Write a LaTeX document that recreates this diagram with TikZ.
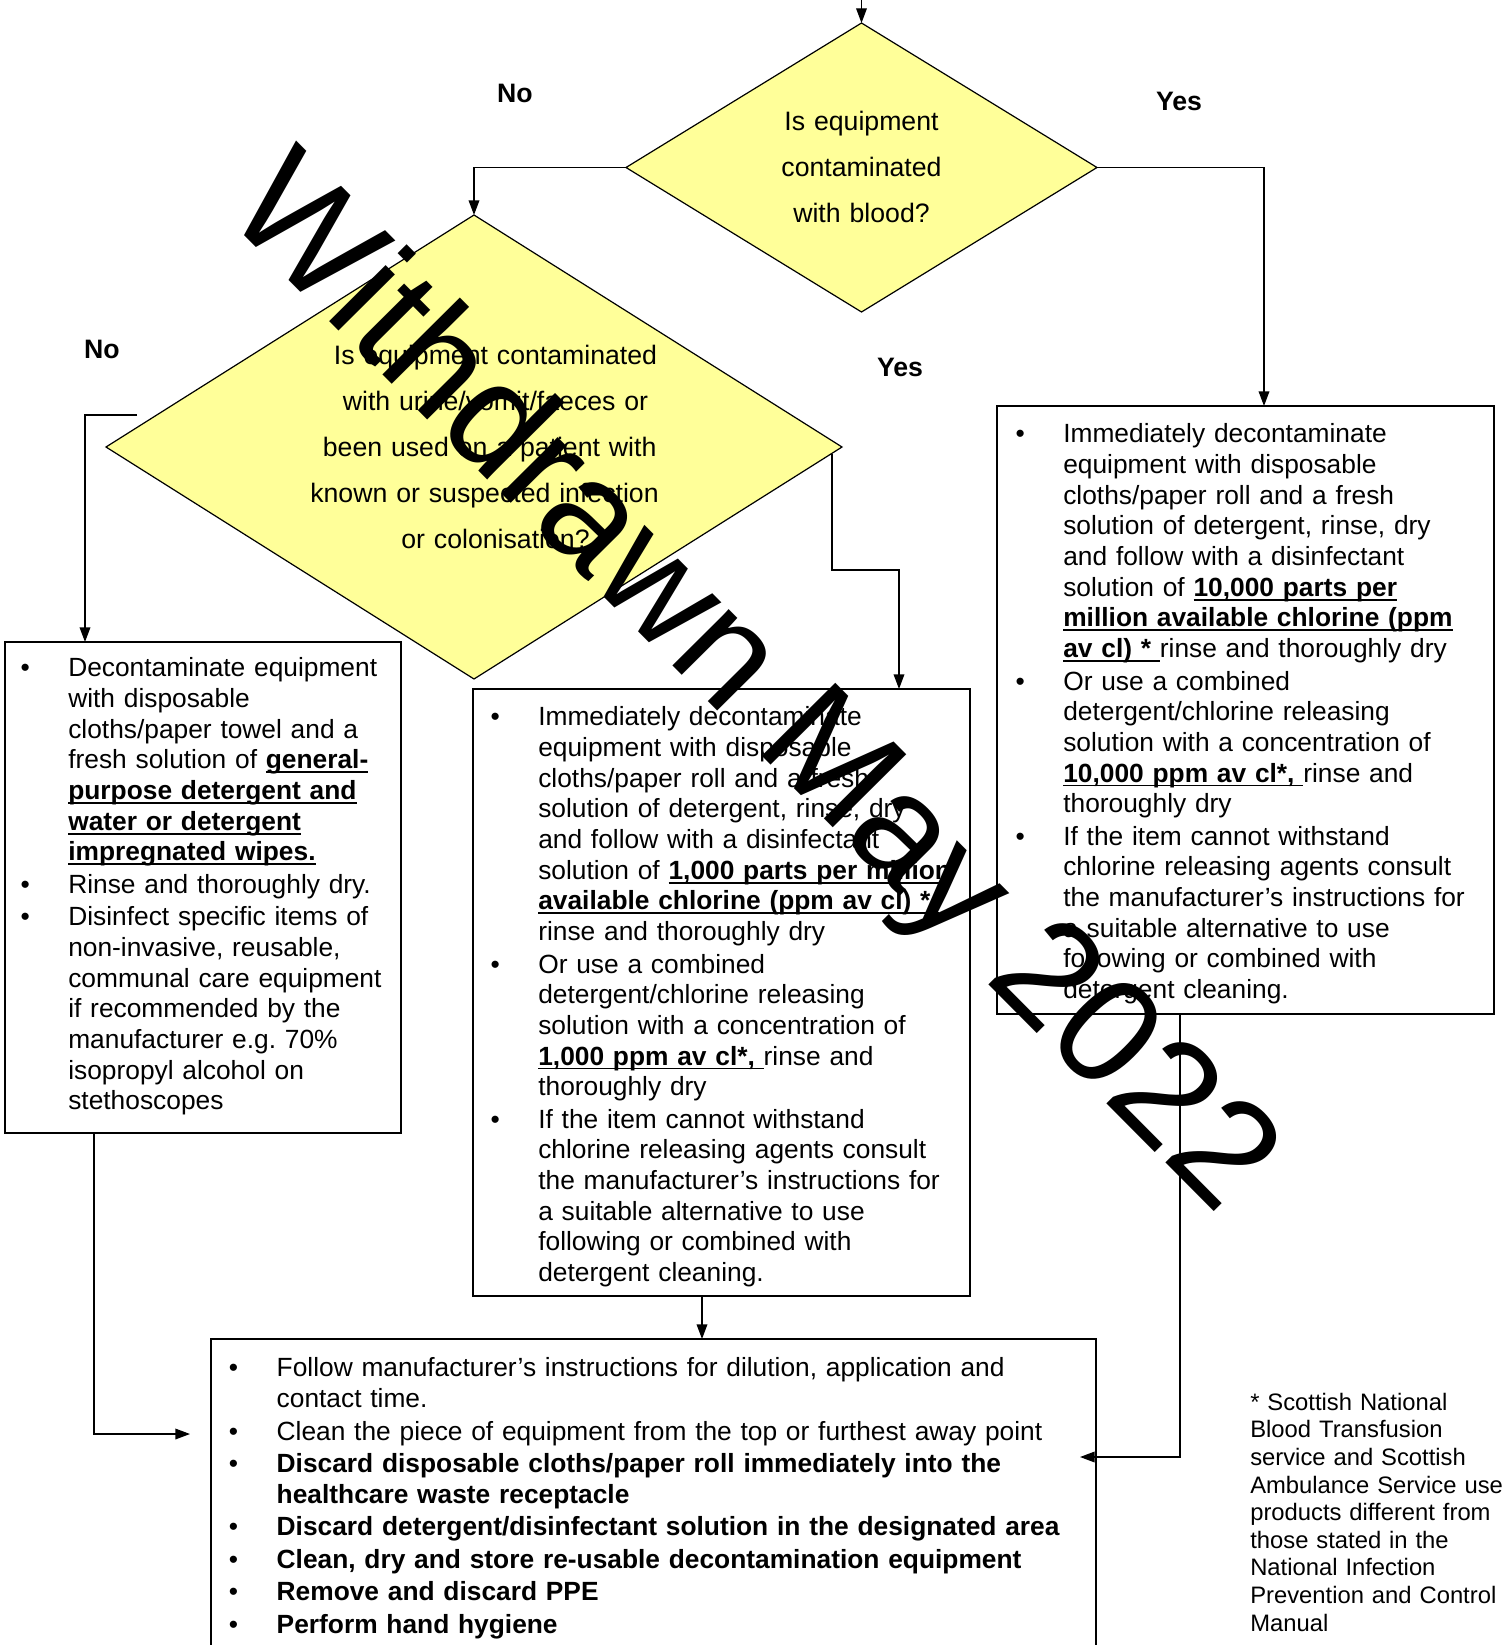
\documentclass[tikz,border=0pt]{standalone}
\usepackage{fontspec}
\setmainfont{Liberation Sans}
\usetikzlibrary{shapes.geometric,arrows.meta}
\definecolor{dyel}{HTML}{FFFF99}
\newsavebox\ulbox
\newcommand\ulb[1]{\leavevmode\sbox\ulbox{\bfseries #1}\rlap{\rule[-3.3pt]{\wd\ulbox}{1.3pt}}\usebox\ulbox}
\newlength\bpind \setlength\bpind{35.8pt}
\newcommand\bp[1]{\par\noindent\hangindent=\bpind\hangafter=1{\let\\\newline\makebox[\bpind][l]{\textbullet}\strut#1}\par}
\newcommand\bxf{\fontsize{19.75}{23}\selectfont}
\tikzset{
 dia/.style={diamond, draw, fill=dyel, line width=0.9pt, inner sep=0pt, outer sep=0pt},
 boxn/.style={draw, line width=1.2pt, anchor=north west, inner sep=0pt, outer sep=0pt},
 btxt/.style={anchor=north west, inner sep=0pt, font=\bxf, text width=#1},
 lbl/.style={font=\fontsize{20}{23}\selectfont\bfseries, inner sep=0pt, text depth=0pt},
 arr/.style={line width=1pt, -{Triangle[length=11pt,width=8pt]}},
 qtxt/.style={anchor=north, inner sep=0pt, align=center, font=\fontsize{20}{34.5}\selectfont},
}
\begin{document}
\begin{tikzpicture}[x=0.75pt,y=-0.75pt]
\useasboundingbox (0,0) rectangle (1506,1645);
\begin{scope}
\clip (0,0) rectangle (1506,1645);
% decisions
\node[dia, minimum width=353.25pt, minimum height=216.75pt] (d1) at (861.5,167.5) {};
\node[dia, minimum width=552pt, minimum height=348pt] (d2) at (474,447) {};
\node[qtxt, text width=225pt] (d1t) at (861.5,97.8) {\strut Is equipment\\ contaminated\\ with blood?};
\begin{scope}
\clip (250,300) rectangle (658,600);
\node[qtxt, text width=400pt] (d2t) at (495.5,331.8) {\strut Is equipment contaminated\\ with urine/vomit/faeces or\\ \mbox{}\hspace{9pt}been used on a patient with a\\ known or suspected infection\hspace{16.5pt}\mbox{}\\ or colonisation?};
\end{scope}
% labels
\node[lbl] (no1) at (515,93) {No};
\node[lbl] (yes1) at (1179,101) {Yes};
\node[lbl] (no2) at (102,349) {No};
\node[lbl] (yes2) at (900,367) {Yes};
% boxes
\node[boxn, minimum width=297pt, minimum height=368.25pt] (lbox) at (5,642) {};
\node[boxn, minimum width=372.75pt, minimum height=455.25pt] (mbox) at (473,689) {};
\node[boxn, minimum width=372.75pt, minimum height=456pt] (rbox) at (997,406) {};
\node[boxn, minimum width=663.75pt, minimum height=240.75pt] (botbox) at (211,1339) {};
% box texts
\node[btxt=283pt] (ltx) at (20.3,644) {\raggedright\setlength{\parskip}{1.4pt}%
\bp{Decontaminate equipment\\ with disposable\\ cloths/paper towel and a\\ fresh solution of \ulb{general-}\\ \ulb{purpose detergent and}\\ \ulb{water or detergent}\\ \ulb{impregnated wipes.}}
\bp{Rinse and thoroughly dry.}
\bp{Disinfect specific items of\\ non-invasive, reusable,\\ communal care equipment\\ if recommended by the\\ manufacturer e.g.\ 70\%\\ isopropyl alcohol on\\ stethoscopes}};
\node[btxt=358pt] (mtx) at (490.3,693) {\raggedright\setlength{\parskip}{1.4pt}%
\bp{Immediately decontaminate\\ equipment with disposable\\ cloths/paper roll and a fresh\\ solution of detergent, rinse, dry\\ and follow with a disinfectant\\ solution of \ulb{1,000 parts per million}\\ \ulb{available chlorine (ppm av cl) *\ }\\ rinse and thoroughly dry}
\bp{Or use a combined\\ detergent/chlorine releasing\\ solution with a concentration of\\ \ulb{1,000 ppm av cl*,\ }rinse and\\ thoroughly dry}
\bp{If the item cannot withstand\\ chlorine releasing agents consult\\ the manufacturer’s instructions for\\ a suitable alternative to use\\ following or combined with\\ detergent cleaning.}};
\node[btxt=358pt] (rtx) at (1015.3,410) {\raggedright\setlength{\parskip}{1.4pt}%
\bp{Immediately decontaminate\\ equipment with disposable\\ cloths/paper roll and a fresh\\ solution of detergent, rinse, dry\\ and follow with a disinfectant\\ solution of \ulb{10,000 parts per}\\ \ulb{million available chlorine (ppm}\\ \ulb{av cl) *\ }rinse and thoroughly dry}
\bp{Or use a combined\\ detergent/chlorine releasing\\ solution with a concentration of\\ \ulb{10,000 ppm av cl*,\ }rinse and\\ thoroughly dry}
\bp{If the item cannot withstand\\ chlorine releasing agents consult\\ the manufacturer’s instructions for\\ a suitable alternative to use\\ following or combined with\\ detergent cleaning.}};
\node[btxt=645pt] (btx) at (228.7,1344) {\raggedright\setlength{\parskip}{1.4pt}%
\bp{Follow manufacturer’s instructions for dilution, application and\\ contact time.}
\bp{Clean the piece of equipment from the top or furthest away point}
\bp{\textbf{Discard disposable cloths/paper roll immediately into the\\ healthcare waste receptacle}}
\bp{\textbf{Discard detergent/disinfectant solution in the designated area}}
\bp{\textbf{Clean, dry and store re-usable decontamination equipment}}
\bp{\textbf{Remove and discard PPE}}
\bp{\textbf{Perform hand hygiene}}};
\node[anchor=north west, inner sep=0pt, align=left, text width=192pt, font=\fontsize{17.85}{20.7}\selectfont] (fn) at (1250,1390.7) {\strut * Scottish National\\ Blood Transfusion\\ service and Scottish\\ Ambulance Service use\\ products different from\\ those stated in the\\ National Infection\\ Prevention and Control\\ Manual};
% connectors
\coordinate (tin) at (861.5,0);
\draw[arr] (tin) -- (d1.north);
\draw[arr] (d1.west) -| (d2.north);
\draw[arr] (d1.east) -| ([shift={(267,0)}]rbox.north west);
\coordinate (n2) at (137,415);
\draw[arr] (n2) -| ([shift={(80,0)}]lbox.north west);
\coordinate (y2) at (832,454);
\draw[arr] (y2) -- ++(0,116) -| ([shift={(426,0)}]mbox.north west);
\draw[arr] ([shift={(89,0)}]lbox.south west) |- ([shift={(-21,95)}]botbox.north west);
\draw[arr] ([shift={(229,0)}]mbox.south west) -- ([shift={(491,0)}]botbox.north west);
\draw[arr] ([shift={(183,0)}]rbox.south west) |- ([shift={(-16,118)}]botbox.north east);
% watermark
\node[rotate=-45.2, inner sep=0pt, text depth=0pt, font=\fontsize{113}{113}\selectfont] (wm) at (760,677) {Withdrawn May 2022};
\end{scope}
\end{tikzpicture}
\end{document}
